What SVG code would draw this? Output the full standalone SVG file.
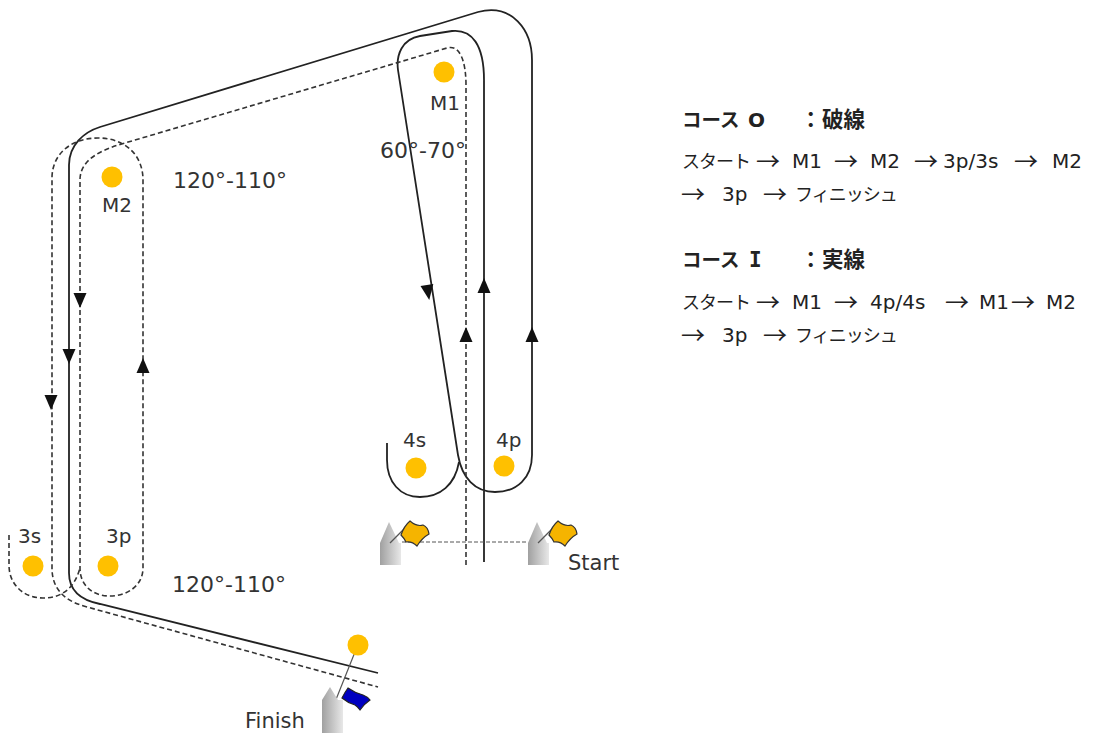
<svg xmlns="http://www.w3.org/2000/svg" width="1094" height="733" viewBox="0 0 1094 733">
<style>
.solid{fill:none;stroke:#222;stroke-width:1.8}
.dash{fill:none;stroke:#333;stroke-width:1.6;stroke-dasharray:5 3}
.thin{fill:none;stroke:#555;stroke-width:1;stroke-dasharray:4 2}
.buoy{fill:#FFC000}
.lbl{font-family:"DejaVu Sans","Liberation Sans",sans-serif;font-size:20px;fill:#333}
.ang{font-size:22px}
.ah{fill:#111}
.post{fill:url(#pg)}
.flagY{fill:#F5B400;stroke:#333;stroke-width:1.2}
.flagB{fill:#0000C0;stroke:#222;stroke-width:1.2}
.pole{stroke:#555;stroke-width:1.2}
.tx{font-family:"DejaVu Sans","Noto Sans CJK JP",sans-serif;font-size:20px;fill:#222}
.kj{font-family:"Noto Sans CJK JP",sans-serif;font-size:18px;letter-spacing:-1px}
.arw{font-family:"Noto Sans CJK JP",sans-serif;font-size:24px;baseline-shift:-2px}
.hd{font-weight:bold}
.hk{font-family:"Noto Sans CJK JP",sans-serif;font-size:19.5px}
.hz{font-family:"Noto Sans CJK JP",sans-serif;font-size:21.5px}
.ser{font-family:"DejaVu Sans Mono",monospace;font-size:21px}
</style>
<defs>
<linearGradient id="pg" x1="0" y1="0" x2="1" y2="0">
<stop offset="0" stop-color="#a0a0a0"/>
<stop offset="1" stop-color="#e8e8e8"/>
</linearGradient>
<path id="ad" d="M-6.5,-7 L6.5,-7 L0,8 Z"/>
</defs>
<rect width="1094" height="733" fill="#fff"/>

<g id="connectors">
<!-- Course I (solid) -->
<path class="solid" d="M484,562 L484,80 C484,45 472,29 452,31 L420,36 C402,39 396,55 398,70 L458,455 C462,478 475,492 495,492 C517,492 532,478 532,455 L532,60 C532,30 512,3 478,12 L100,127 C84,132 69,145 69,165 L69,573 C69,590 80,600 100,604 L378,673"/>
<path class="solid" d="M387,443 V460 C387,482 400,497 420,497 C440,497 455,485 459,462"/>
<!-- Course O (dashed) -->
<path class="dash" d="M466,565 V85 C466,62 460,44 447,48 L125,143 C100,150 80,160 80,180 V568 C80,585 92,596 110,596 C128,596 143,585 143,568 V180 C143,155 125,138 98,138 C70,138 52,155 52,178 V568 C52,585 60,600 87,607 L378,687"/>
<path class="dash" d="M9,535 V565 C9,585 24,598 43,598 C60,598 74,590 80,568"/>
<!-- start line -->
<path class="thin" d="M402,542 H528"/>
<!-- finish line -->
<line class="pole" x1="333" y1="707" x2="355" y2="652"/>
<!-- arrowheads -->
<use href="#ad" class="ah" transform="translate(69,356)"/>
<use href="#ad" class="ah" transform="translate(80,300)"/>
<use href="#ad" class="ah" transform="translate(51,402)"/>
<use href="#ad" class="ah" transform="translate(143,366) rotate(180)"/>
<use href="#ad" class="ah" transform="translate(428,292) rotate(-9)"/>
<use href="#ad" class="ah" transform="translate(484,286) rotate(180)"/>
<use href="#ad" class="ah" transform="translate(466,335) rotate(180)"/>
<use href="#ad" class="ah" transform="translate(532,335) rotate(180)"/>
</g>

<g id="M1"><circle class="buoy" cx="444" cy="72" r="10.5"/><text class="lbl" x="430" y="110">M1</text></g>
<g id="angle-M1"><text class="lbl ang" x="380" y="158">60°-70°</text></g>
<g id="M2"><circle class="buoy" cx="112" cy="177" r="10.5"/><text class="lbl" x="102" y="212">M2</text></g>
<g id="angle-M2"><text class="lbl ang" x="173" y="188">120°-110°</text></g>
<g id="b3s"><circle class="buoy" cx="33" cy="566" r="10.5"/><text class="lbl" x="18" y="543">3s</text></g>
<g id="b3p"><circle class="buoy" cx="108" cy="566" r="10.5"/><text class="lbl" x="106" y="543">3p</text></g>
<g id="angle-3"><text class="lbl ang" x="172" y="592">120°-110°</text></g>
<g id="b4s"><circle class="buoy" cx="416" cy="468" r="10.5"/><text class="lbl" x="403" y="447">4s</text></g>
<g id="b4p"><circle class="buoy" cx="504" cy="466" r="10.5"/><text class="lbl" x="496" y="447">4p</text></g>

<g id="start-left">
<path class="post" d="M380,565 V543 L389,522 L399,543 L401,543 V565 Z"/>
<line class="pole" x1="390" y1="543" x2="408" y2="525"/>
<path class="flagY" d="M401,535 Q404,526 410,521 Q417,527 423,525 Q428,527 429,534 Q422,538 417,546 Q412,541 406,542 Q404,538 401,535 Z"/>
</g>
<g id="start-right">
<path class="post" d="M528,565 V543 L537,522 L547,543 L549,543 V565 Z"/>
<line class="pole" x1="538" y1="543" x2="556" y2="525"/>
<path class="flagY" d="M549,535 Q552,526 558,521 Q565,527 571,525 Q576,527 577,534 Q570,538 565,546 Q560,541 554,542 Q552,538 549,535 Z"/>
<text class="lbl" x="568" y="570" style="font-size:21px">Start</text>
</g>
<g id="finish">
<circle class="buoy" cx="358" cy="645" r="10.5"/>
<path class="post" d="M322,733 V700 L330,687 L338,700 L343,700 V733 Z"/>
<path class="flagB" d="M342,698 Q345,692 348,688 Q355,693 363,695 Q368,697 370,700 Q364,704 360,710 Q357,706 355,705 Q348,703 342,698 Z"/>
<text class="lbl" x="245" y="728" style="font-size:21px">Finish</text>
</g>

<g id="legend">
<text class="tx hd" y="127"><tspan class="hk" x="682">コース </tspan><tspan x="748">O　</tspan><tspan class="hz" x="800">：</tspan><tspan class="hz" x="822">破線</tspan></text>
<text class="tx" y="168"><tspan class="kj" x="682">スタート </tspan><tspan class="arw" x="756">→ </tspan><tspan x="792">M1 </tspan><tspan class="arw" x="834">→ </tspan><tspan x="870">M2 </tspan><tspan class="arw" x="914">→ </tspan><tspan x="943">3p/3s </tspan><tspan class="arw" x="1014">→ </tspan><tspan x="1052">M2</tspan></text>
<text class="tx" y="201"><tspan class="arw" x="681">→  </tspan><tspan x="722">3p </tspan><tspan class="arw" x="763">→ </tspan><tspan class="kj" x="795">フィニッシュ</tspan></text>
<text class="tx hd" y="267"><tspan class="hk" x="682">コース </tspan><tspan class="ser" x="749">I　</tspan><tspan class="hz" x="800">：</tspan><tspan class="hz" x="822">実線</tspan></text>
<text class="tx" y="309"><tspan class="kj" x="682">スタート </tspan><tspan class="arw" x="756">→ </tspan><tspan x="792">M1 </tspan><tspan class="arw" x="834">→ </tspan><tspan x="870">4p/4s </tspan><tspan class="arw" x="945">→ </tspan><tspan x="979">M1</tspan><tspan class="arw" x="1011">→ </tspan><tspan x="1046">M2</tspan></text>
<text class="tx" y="342"><tspan class="arw" x="681">→  </tspan><tspan x="722">3p </tspan><tspan class="arw" x="763">→ </tspan><tspan class="kj" x="795">フィニッシュ</tspan></text>
</g>
</svg>
